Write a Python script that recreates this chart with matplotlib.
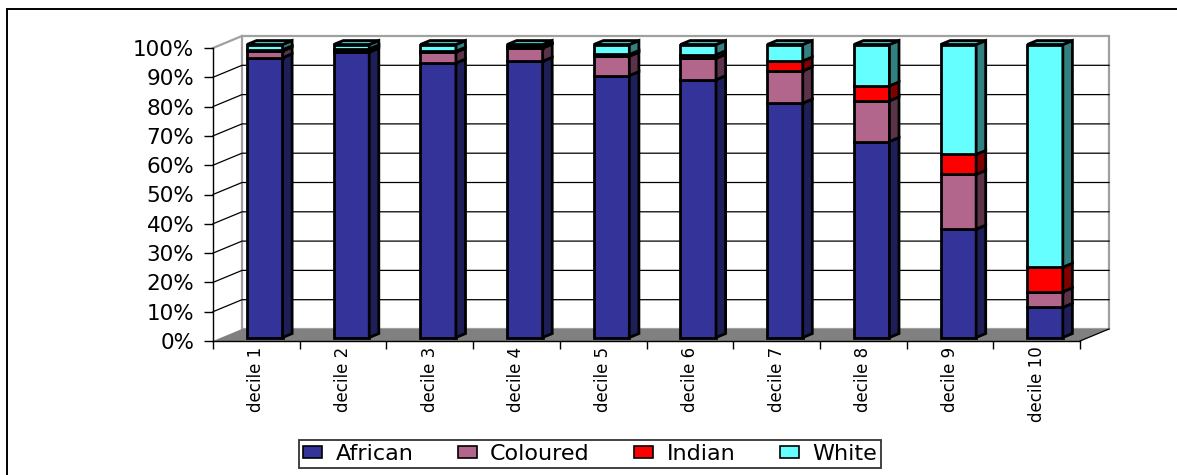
import matplotlib
matplotlib.use("Agg")
import matplotlib.pyplot as plt
from matplotlib.patches import Polygon, Rectangle, Patch

plt.rcParams['font.family'] = ['DejaVu Sans']

# ---- data: share of each population group per income decile (%) ----
categories = ["decile 1", "decile 2", "decile 3", "decile 4", "decile 5",
              "decile 6", "decile 7", "decile 8", "decile 9", "decile 10"]
african = [95.5, 97.4, 93.7, 94.3, 89.4, 88.0, 80.0, 66.9, 37.0, 10.3]
coloured = [2.3, 0.8, 3.7, 4.5, 6.6, 7.3, 11.0, 13.9, 18.7, 5.3]
indian = [0.4, 0.3, 0.3, 0.2, 0.6, 1.2, 3.4, 5.1, 6.8, 8.4]
white = [1.8, 1.5, 2.3, 1.0, 3.4, 3.5, 5.6, 14.1, 37.5, 76.0]
series_names = ["African", "Coloured", "Indian", "White"]
y_ticks = [0, 10, 20, 30, 40, 50, 60, 70, 80, 90, 100]

front_colors = ["#333399", "#B3668C", "#FF0000", "#66FFFF"]
side_colors = ["#1E1E58", "#5A3348", "#800000", "#338080"]
top_colors = ["#26267A", "#8A4E6C", "#C00000", "#4CBFBF"]

W, H = 1177, 475
fig = plt.figure(figsize=(W / 100, H / 100), dpi=100)
fig.patch.set_facecolor("white")

# axes = front plane of the 3-D box
x0_px, x1_px, ytop_px, ybot_px = 213, 1080, 48, 341
ax = fig.add_axes([x0_px / W, 1 - ybot_px / H, (x1_px - x0_px) / W, (ybot_px - ytop_px) / H])
ax.set_xlim(0, 10)
ax.set_ylim(0, 100)
ax.set_facecolor("none")

# depth vector of the whole box, in data units
px_per_x = (x1_px - x0_px) / 10.0
px_per_y = (ybot_px - ytop_px) / 100.0
DX = 29 / px_per_x
DY = 12 / px_per_y

# walls and floor
ax.add_patch(Polygon([(0, 0), (DX, DY), (DX, 100 + DY), (0, 100)], closed=True,
                     fc="white", ec="none", clip_on=False, zorder=0))
ax.add_patch(Rectangle((DX, DY), 10, 100, fc="white", ec="#A0A0A0", lw=1.6,
                       clip_on=False, zorder=0.5))
ax.plot([0, DX], [100, 100 + DY], color="#A0A0A0", lw=1.6, clip_on=False, zorder=0.6)
for p in y_ticks[1:-1]:
    ax.plot([0, DX, 10 + DX], [p, p + DY, p + DY], color="black", lw=0.9,
            clip_on=False, zorder=1)
ax.add_patch(Polygon([(0, 0), (10, 0), (10 + DX, DY), (DX, DY)], closed=True,
                     fc="#808080", ec="none", clip_on=False, zorder=1.5))
ax.plot([10, 10 + DX], [0, DY], color="black", lw=0.9, clip_on=False, zorder=1.6)

# bars: front faces via ax.bar, sides and tops as polygons
f0, f1 = 0.29, 0.62
bw = 0.41
ddx, ddy = (f1 - f0) * DX, (f1 - f0) * DY
series = [african, coloured, indian, white]
n = len(categories)
centers = [i + 0.5 + f0 * DX for i in range(n)]
cum = [0.0] * n
lw = 2.0
for s, vals in enumerate(series):
    bottoms = [c + f0 * DY for c in cum]
    ax.bar(centers, vals, width=bw, bottom=bottoms, color=front_colors[s],
           edgecolor="black", linewidth=lw, clip_on=False, zorder=3)
    for i in range(n):
        xr = centers[i] + bw / 2
        b = bottoms[i]
        t = b + vals[i]
        ax.add_patch(Polygon([(xr, b), (xr + ddx, b + ddy), (xr + ddx, t + ddy), (xr, t)],
                             closed=True, fc=side_colors[s], ec="black", lw=lw,
                             clip_on=False, zorder=3))
    cum = [c + v for c, v in zip(cum, vals)]

for i in range(n):
    xl = centers[i] - bw / 2
    xr = centers[i] + bw / 2
    t = cum[i] + f0 * DY
    ax.add_patch(Polygon([(xl, t), (xr, t), (xr + ddx, t + ddy), (xl + ddx, t + ddy)],
                         closed=True, fc=top_colors[3], ec="black", lw=lw,
                         clip_on=False, zorder=3))

# axes, ticks and labels
for side in ("top", "right"):
    ax.spines[side].set_visible(False)
ax.spines["left"].set_color("black")
ax.spines["bottom"].set_color("black")
ax.spines["left"].set_linewidth(1.0)
ax.spines["bottom"].set_linewidth(1.0)
ax.spines["left"].set_zorder(2)
ax.spines["bottom"].set_zorder(2)

ax.set_yticks(y_ticks)
ax.set_yticklabels([f"{v}%" for v in y_ticks])
ax.tick_params(axis="y", length=6.5, width=1.0, pad=7, labelsize=15.5, colors="black")

ax.set_xticks([i + 0.5 for i in range(n)])
ax.set_xticklabels(categories, rotation=90, va="top", ha="center")
ax.set_xticks(list(range(n + 1)), minor=True)
ax.tick_params(axis="x", which="major", length=0, pad=4, labelsize=12)
ax.tick_params(axis="x", which="minor", length=6, width=1.0)

# legend
handles = [Patch(facecolor=c, edgecolor="black", linewidth=1.2) for c in front_colors]
leg = fig.legend(handles, series_names, loc="center", bbox_to_anchor=(590 / W, 1 - 454 / H),
                 ncol=4, frameon=True, fancybox=False, fontsize=16,
                 handlelength=0.85, handleheight=0.45, handletextpad=0.6,
                 columnspacing=2.0, borderpad=0.2, borderaxespad=0)
leg.get_frame().set_edgecolor("black")
leg.get_frame().set_linewidth(1.3)

# chart-area border
fig.patches.append(Rectangle((7 / W, -0.1), 1.2, (H - 9) / H + 0.1,
                             transform=fig.transFigure, fill=False, ec="black", lw=1.4))

fig.savefig("out.png", dpi=100)
